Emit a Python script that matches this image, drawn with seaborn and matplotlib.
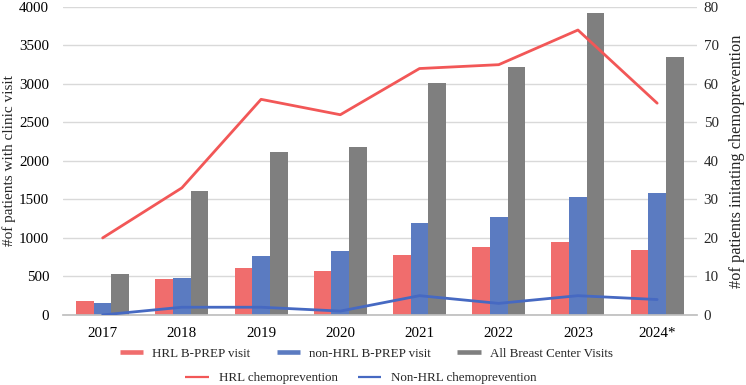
import matplotlib
matplotlib.use("Agg")
import matplotlib.pyplot as plt
import seaborn as sns
import pandas as pd
import numpy as np
from matplotlib.lines import Line2D

years = ["2017", "2018", "2019", "2020", "2021", "2022", "2023", "2024*"]
hrl_visit = [181, 465, 603, 573, 784, 884, 944, 849]
nonhrl_visit = [151, 483, 763, 828, 1194, 1272, 1530, 1590]
all_visits = [526, 1612, 2112, 2177, 3009, 3220, 3927, 3349]
hrl_chemo = [20, 33, 56, 52, 64, 65, 74, 55]
nonhrl_chemo = [0, 2, 2, 1, 5, 3, 5, 4]

bar_names = ["HRL B-PREP visit", "non-HRL B-PREP visit", "All Breast Center Visits"]
line_names = ["HRL chemoprevention", "Non-HRL chemoprevention"]
bar_colors = ["#F06D6D", "#5B7BC1", "#7F7F7F"]
line_colors = ["#F25757", "#4669C2"]

sns.set_theme(style="white")
plt.rcParams["font.family"] = ["Liberation Serif", "DejaVu Serif"]

df = pd.DataFrame({
    "year": years * 3,
    "value": hrl_visit + nonhrl_visit + all_visits,
    "series": [bar_names[0]] * 8 + [bar_names[1]] * 8 + [bar_names[2]] * 8,
})

fig = plt.figure(figsize=(7.46, 3.85), dpi=100)
ax = fig.add_axes([0.0845, 0.182, 0.8495, 0.8])

sns.barplot(data=df, x="year", y="value", hue="series", order=years,
            hue_order=bar_names, palette=bar_colors, width=0.67, gap=0,
            saturation=1, linewidth=0, edgecolor="none", ax=ax, legend=False)

ax.set_ylim(0, 4000)
ax.set_yticks(np.arange(0, 4001, 500))
ax.yaxis.grid(True, color="#D9D9D9", linewidth=1)
ax.set_axisbelow(True)
ax.set_xlabel("")
ax.set_ylabel("#of patients with clinic visit", fontsize=11, labelpad=2)
for s in ["top", "right", "left"]:
    ax.spines[s].set_visible(False)
ax.spines["bottom"].set_color("#BFBFBF")
ax.tick_params(axis="x", length=0, labelsize=10.8, colors="black", pad=9)
ax.tick_params(axis="y", length=0, labelsize=10.8, colors="black", pad=10)

ax2 = ax.twinx()
ldf = pd.DataFrame({"year": years, "hrl": hrl_chemo, "nonhrl": nonhrl_chemo})
sns.pointplot(data=ldf, x="year", y="hrl", order=years, color=line_colors[0],
              markers="", linewidth=2.0, errorbar=None, ax=ax2)
sns.pointplot(data=ldf, x="year", y="nonhrl", order=years, color=line_colors[1],
              markers="", linewidth=2.0, errorbar=None, ax=ax2)
ax2.set_ylim(0, 80)
ax2.set_yticks(np.arange(0, 81, 10))
ax2.set_xlim(-0.5, len(years) - 0.5)
ax.set_xlim(-0.5, len(years) - 0.5)
ax2.set_ylabel("#of patients initating chemoprevention", fontsize=11.8, labelpad=7)
ax2.set_xlabel("")
for s in ["top", "right", "left", "bottom"]:
    ax2.spines[s].set_visible(False)
ax2.tick_params(axis="y", length=0, labelsize=10.8, pad=5)
ax2.grid(False)

h1 = [Line2D([0], [0], color=c, linewidth=3.3, solid_capstyle="butt") for c in bar_colors]
leg1 = fig.legend(h1, bar_names, loc="center", bbox_to_anchor=(0.491, 0.081),
                  ncol=3, frameon=False, fontsize=9.4, handlelength=1.8,
                  columnspacing=2.0, handletextpad=0.7)
h2 = [Line2D([0], [0], color=c, linewidth=1.6, solid_capstyle="butt") for c in line_colors]
leg2 = fig.legend(h2, line_names, loc="center", bbox_to_anchor=(0.484, 0.018),
                  ncol=2, frameon=False, fontsize=9.4, handlelength=1.8,
                  columnspacing=1.5, handletextpad=0.8)

fig.savefig("out.png", dpi=100)
